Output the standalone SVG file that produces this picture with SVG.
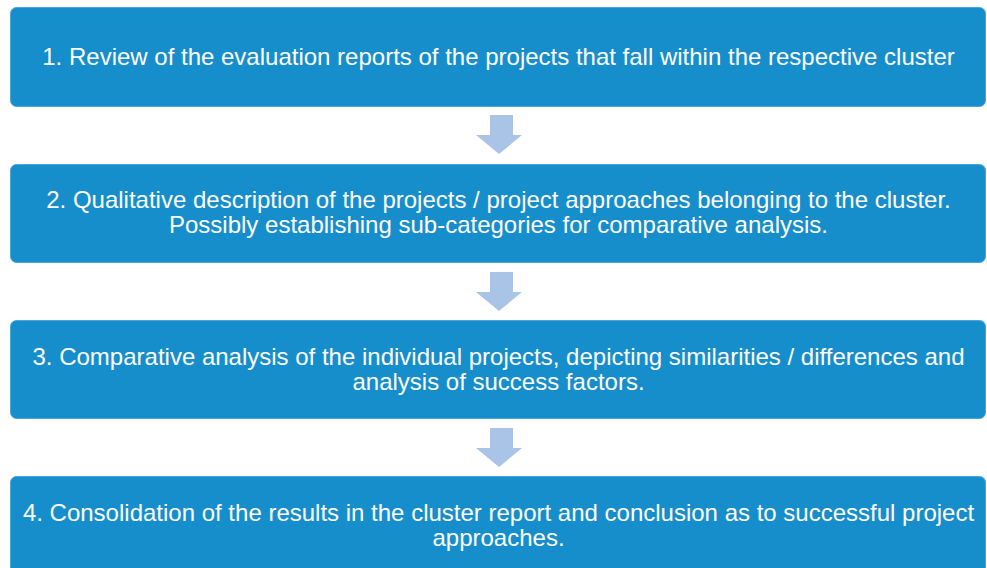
<svg xmlns="http://www.w3.org/2000/svg" width="987" height="568" viewBox="0 0 987 568">
  <defs>
    <style>
      .box { fill: #168ecc; stroke: #4aa7d8; stroke-width: 1; }
      .lbl { fill: #ffffff; font-family: "Liberation Sans", Arial, sans-serif; font-size: 24px; text-anchor: middle; }
      .arrow { fill: #a9c4e6; }
    </style>
  </defs>
  <rect width="987" height="568" fill="#ffffff"/>

  <!-- process steps -->
  <g id="step1">
    <rect class="box" x="10.5" y="7.5" width="975" height="99" rx="6"/>
    <text class="lbl" x="498.5" y="65">1. Review of the evaluation reports of the projects that fall within the respective cluster</text>
  </g>
  <g id="step2">
    <rect class="box" x="10.5" y="164.5" width="975" height="98" rx="6"/>
    <text class="lbl" x="498.5" y="208">2. Qualitative description of the projects / project approaches belonging to the cluster.</text>
    <text class="lbl" x="498.5" y="233">Possibly establishing sub-categories for comparative analysis.</text>
  </g>
  <g id="step3">
    <rect class="box" x="10.5" y="320.5" width="975" height="98" rx="6"/>
    <text class="lbl" x="498.5" y="365">3. Comparative analysis of the individual projects, depicting similarities / differences and</text>
    <text class="lbl" x="498.5" y="390">analysis of success factors.</text>
  </g>
  <g id="step4">
    <rect class="box" x="10.5" y="476.5" width="975" height="110" rx="6"/>
    <text class="lbl" x="498.5" y="521">4. Consolidation of the results in the cluster report and conclusion as to successful project</text>
    <text class="lbl" x="498.5" y="546">approaches.</text>
  </g>

  <!-- connectors -->
  <g id="connectors">
    <path class="arrow" d="M490 115 H513 V135 H522 L499 154 L476 135 H490 Z"/>
    <path class="arrow" d="M490 272 H513 V292 H522 L499 311 L476 292 H490 Z"/>
    <path class="arrow" d="M490 428 H513 V448 H522 L499 467 L476 448 H490 Z"/>
  </g>
</svg>
